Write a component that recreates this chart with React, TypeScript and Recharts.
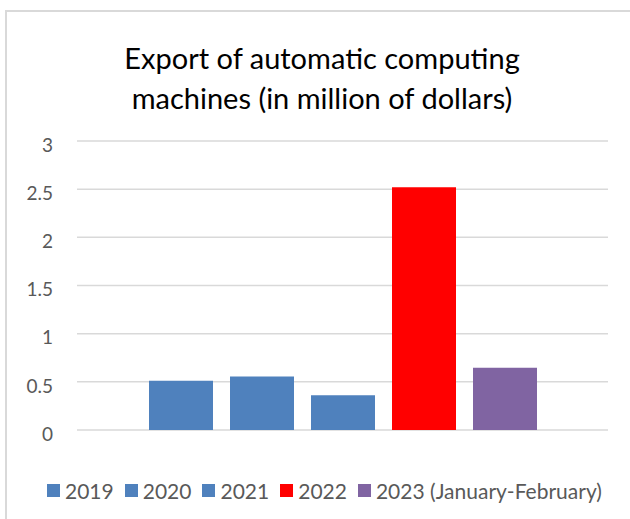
import React from "react";
import { BarChart, Bar, XAxis, YAxis, CartesianGrid, Legend } from "recharts";

const titleLines = ["Export of automatic computing", "machines (in million of dollars)"];
const seriesNames = ["2019", "2020", "2021", "2022", "2023 (January-February)"];
const seriesKeys = ["y2019", "y2020", "y2021", "y2022", "y2023"];
const seriesValues = [0.51, 0.555, 0.36, 2.52, 0.645];
const seriesColors = ["#4F81BD", "#4F81BD", "#4F81BD", "#FF0000", "#8064A2"];
const yTicks = [0, 0.5, 1, 1.5, 2, 2.5, 3];

const row: Record<string, any> = { name: "" };
seriesKeys.forEach((k, i) => {
  row[k] = seriesValues[i];
});
const data = [row];

const FONT = "Lato, 'Open Sans', sans-serif";

const LegendContent = () => (
  <div
    style={{
      height: 30,
      display: "flex",
      alignItems: "center",
      paddingLeft: 47,
      fontFamily: FONT,
      fontSize: 21,
      color: "#595959",
      whiteSpace: "nowrap",
    }}
  >
    {seriesNames.map((n, i) => (
      <span key={n} style={{ display: "inline-flex", alignItems: "center", marginRight: 11 }}>
        <span
          style={{
            display: "inline-block",
            width: 13,
            height: 13,
            background: seriesColors[i],
            marginRight: 5,
          }}
        />
        {n}
      </span>
    ))}
  </div>
);

export default function App() {
  return (
    <div
      style={{
        position: "absolute",
        left: 0,
        top: 0,
        width: 630,
        height: 519,
        overflow: "hidden",
        background: "#fff",
      }}
    >
      <div
        style={{
          position: "absolute",
          left: 5,
          top: 10,
          width: 700,
          height: 600,
          border: "2px solid #d9d9d9",
          boxSizing: "border-box",
        }}
      />
      <div
        style={{
          position: "absolute",
          left: 0,
          top: 38,
          width: 644,
          textAlign: "center",
          fontFamily: FONT,
          fontSize: 29,
          lineHeight: "40px",
          color: "#000",
        }}
      >
        {titleLines.map((t) => (
          <div key={t}>{t}</div>
        ))}
      </div>
      <div style={{ position: "absolute", left: 0, top: 0 }}>
        <BarChart
          width={630}
          height={519}
          data={data}
          margin={{ top: 141, right: 22, bottom: 14, left: 0 }}
          barGap={17}
          barSize={64}
        >
          <CartesianGrid vertical={false} stroke="#d9d9d9" strokeWidth={1.5} />
          <XAxis dataKey="name" axisLine={false} tickLine={false} tick={false} height={45} />
          <YAxis
            domain={[0, 3]}
            ticks={yTicks}
            width={77}
            axisLine={false}
            tickLine={false}
            tickSize={0}
            tickMargin={24}
            tick={{ fill: "#595959", fontSize: 19, fontFamily: FONT, dy: 4 }}
          />
          <Legend verticalAlign="bottom" content={<LegendContent />} />
          {seriesKeys.map((k, i) => (
            <Bar key={k} dataKey={k} name={seriesNames[i]} fill={seriesColors[i]} isAnimationActive={false} />
          ))}
        </BarChart>
      </div>
    </div>
  );
}
